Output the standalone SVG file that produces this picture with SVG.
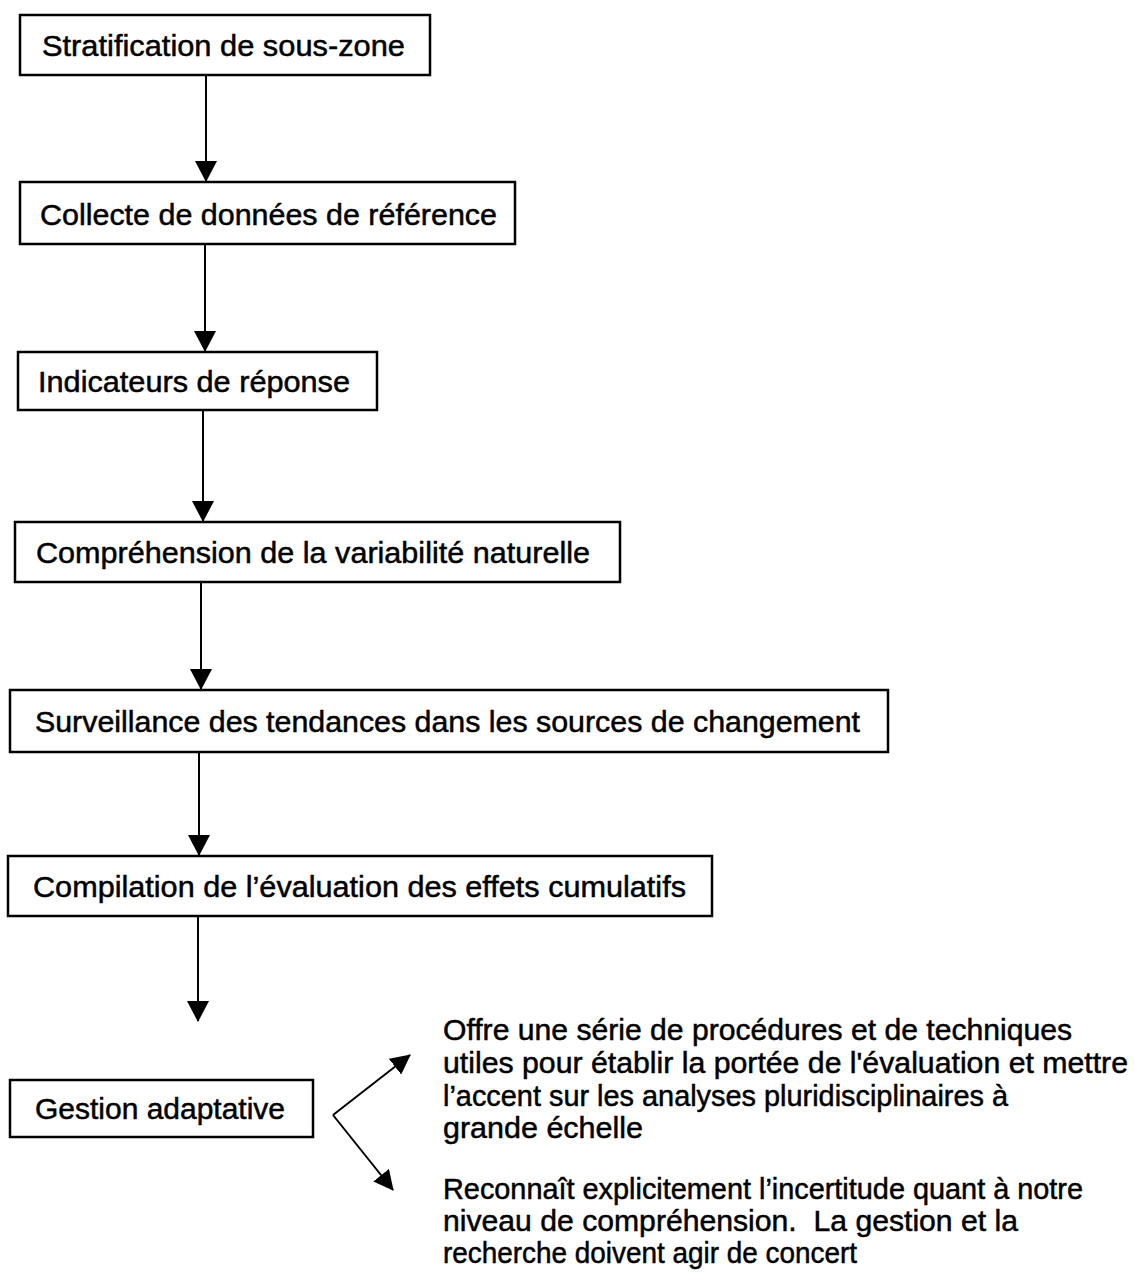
<svg xmlns="http://www.w3.org/2000/svg" width="1135" height="1282" viewBox="0 0 1135 1282">
<style>
.box{fill:#fff;stroke:#000;stroke-width:2.5}
.t{font-family:"Liberation Sans",Arial,sans-serif;font-size:30px;fill:#000;stroke:#000;stroke-width:0.5}
.c{stroke:#000;stroke-width:2;fill:none}
</style>
<defs>
<marker id="ah" markerWidth="22" markerHeight="22" viewBox="0 0 22 22" refX="20" refY="11" orient="auto" markerUnits="userSpaceOnUse">
<path d="M0,0 L21,11 L0,22 Z" fill="#000"/>
</marker>
<marker id="ah2" markerWidth="20" markerHeight="20" viewBox="0 0 20 20" refX="19" refY="10" orient="auto" markerUnits="userSpaceOnUse">
<path d="M0,0 L20,10 L0,20 Z" fill="#000"/>
</marker>
</defs>
<rect width="1135" height="1282" fill="#fff"/>
<g id="connectors">
<line class="c" x1="206" y1="75" x2="206" y2="181" marker-end="url(#ah)"/>
<line class="c" x1="205" y1="244" x2="205" y2="351" marker-end="url(#ah)"/>
<line class="c" x1="203" y1="410" x2="203" y2="521" marker-end="url(#ah)"/>
<line class="c" x1="201" y1="582" x2="201" y2="689" marker-end="url(#ah)"/>
<line class="c" x1="199" y1="752" x2="199" y2="855" marker-end="url(#ah)"/>
<line class="c" x1="198" y1="916" x2="198" y2="1021" marker-end="url(#ah)"/>
<line class="c" x1="333" y1="1115" x2="410" y2="1055" stroke-width="2.5" marker-end="url(#ah2)"/>
<line class="c" x1="333" y1="1115" x2="393" y2="1190" stroke-width="2.5" marker-end="url(#ah2)"/>
</g>
<g id="n1"><rect class="box" x="20" y="15" width="410" height="60"/><text class="t" x="42" y="56" textLength="363" lengthAdjust="spacingAndGlyphs">Stratification de sous-zone</text></g>
<g id="n2"><rect class="box" x="20" y="182" width="495" height="62"/><text class="t" x="40" y="225" textLength="457" lengthAdjust="spacingAndGlyphs">Collecte de données de référence</text></g>
<g id="n3"><rect class="box" x="18" y="352" width="359" height="58"/><text class="t" x="38" y="392" textLength="312" lengthAdjust="spacingAndGlyphs">Indicateurs de réponse</text></g>
<g id="n4"><rect class="box" x="15" y="522" width="605" height="60"/><text class="t" x="36" y="563" textLength="554" lengthAdjust="spacingAndGlyphs">Compréhension de la variabilité naturelle</text></g>
<g id="n5"><rect class="box" x="10" y="690" width="878" height="62"/><text class="t" x="35" y="732" textLength="825" lengthAdjust="spacingAndGlyphs">Surveillance des tendances dans les sources de changement</text></g>
<g id="n6"><rect class="box" x="8" y="856" width="704" height="60"/><text class="t" x="33" y="897" textLength="653" lengthAdjust="spacingAndGlyphs">Compilation de l’évaluation des effets cumulatifs</text></g>
<g id="n7"><rect class="box" x="10" y="1080" width="303" height="57"/><text class="t" x="35" y="1119" textLength="250" lengthAdjust="spacingAndGlyphs">Gestion adaptative</text></g>
<g id="n8">
<text class="t" x="443" y="1040" textLength="629" lengthAdjust="spacingAndGlyphs">Offre une série de procédures et de techniques</text>
<text class="t" x="443" y="1073" textLength="685" lengthAdjust="spacingAndGlyphs">utiles pour établir la portée de l'évaluation et mettre</text>
<text class="t" x="443" y="1106" textLength="565" lengthAdjust="spacingAndGlyphs">l’accent sur les analyses pluridisciplinaires à</text>
<text class="t" x="443" y="1138" textLength="200" lengthAdjust="spacingAndGlyphs">grande échelle</text>
</g>
<g id="n9">
<text class="t" x="443" y="1199" textLength="640" lengthAdjust="spacingAndGlyphs">Reconnaît explicitement l’incertitude quant à notre</text>
<text class="t" x="443" y="1231" textLength="575" lengthAdjust="spacingAndGlyphs" xml:space="preserve">niveau de compréhension.  La gestion et la</text>
<text class="t" x="443" y="1263" textLength="414" lengthAdjust="spacingAndGlyphs">recherche doivent agir de concert</text>
</g>
</svg>
